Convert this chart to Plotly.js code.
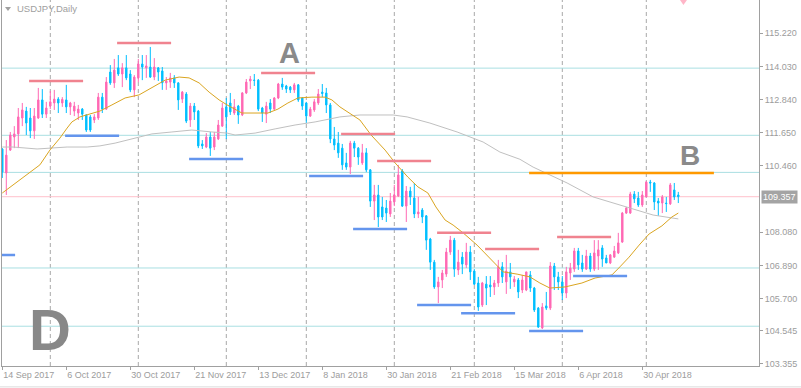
<!DOCTYPE html>
<html><head><meta charset="utf-8">
<script src="https://cdn.plot.ly/plotly-3.0.1.min.js"></script>
<style>html,body{margin:0;padding:0;background:#fff;}#chart{width:801px;height:388px;}</style>
</head><body><div id="chart"></div>
<script>
// ---- OHLC data (USDJPY daily) ----
const opens = [111.07,110.21,111.03,111.50,111.61,112.18,112.43,112.18,111.72,112.18,
112.83,112.32,112.61,112.72,112.86,112.72,112.83,112.58,112.43,112.36,
112.50,112.29,112.22,112.11,112.18,112.93,112.50,113.83,113.44,113.98,
113.76,113.98,113.76,113.19,113.62,114.12,113.98,114.01,113.65,113.98,
113.87,113.44,113.47,113.62,113.44,112.86,113.04,112.11,112.61,112.43,
111.25,111.14,111.50,111.14,111.43,111.89,112.58,112.72,112.36,112.61,
112.29,113.08,113.51,113.54,113.54,112.54,112.32,112.72,112.50,112.90,
113.40,113.33,113.29,113.19,113.37,112.90,112.72,112.25,112.47,112.72,
113.11,113.08,112.65,111.43,111.28,111.10,110.57,110.42,111.28,111.10,
110.57,110.93,110.32,109.20,109.42,108.99,108.95,108.74,109.17,109.38,
110.28,109.02,109.56,109.31,108.74,108.88,108.67,107.84,107.01,106.12,
106.37,106.58,107.37,107.80,106.73,107.19,106.91,107.37,106.69,106.26,
105.47,106.22,106.19,106.12,106.26,106.84,106.30,106.66,106.30,106.37,
106.01,106.01,106.55,106.08,105.36,104.65,105.44,105.36,106.87,106.48,
106.30,105.90,106.62,106.76,107.41,106.98,106.76,107.23,106.76,107.23,
107.52,107.16,106.98,107.19,107.34,107.73,108.77,108.77,109.45,109.31,
109.06,109.35,109.88,109.85,109.20,109.13,109.13,109.10,109.60,109.42];
const highs = [111.10,111.39,111.68,111.89,112.54,112.72,112.58,112.54,112.54,113.26,
113.22,112.76,113.15,113.19,112.93,112.93,113.37,112.76,112.76,112.65,
112.54,112.32,112.29,112.32,113.08,113.08,113.65,114.08,114.30,114.44,
114.15,114.44,113.90,113.72,114.30,114.44,114.44,114.73,114.33,114.01,
114.01,113.65,113.80,113.72,113.47,113.15,113.11,112.72,112.72,112.47,
111.39,111.64,111.68,111.68,112.11,112.72,112.90,113.08,112.86,112.65,
113.11,113.58,113.69,113.76,113.58,112.58,112.76,112.86,112.93,113.44,
113.62,113.37,113.33,113.44,113.40,112.93,112.76,112.58,112.86,113.22,
113.40,113.26,112.72,111.86,111.68,111.25,110.93,111.36,111.36,111.14,
111.25,111.10,110.35,109.78,109.78,109.35,109.24,109.49,109.78,110.50,
110.35,109.74,109.71,109.85,109.35,108.95,108.70,107.88,107.09,106.48,
106.73,107.52,107.95,107.88,107.45,107.37,107.70,107.59,106.76,106.48,
106.30,106.51,106.51,106.37,107.09,107.01,107.27,106.98,106.51,106.44,
106.55,106.66,106.69,106.12,105.40,105.54,105.94,107.01,106.98,106.66,
106.51,106.84,106.98,107.52,107.52,107.27,107.45,107.34,107.80,107.80,
107.62,107.27,107.30,107.59,108.06,108.81,108.99,109.53,109.56,109.53,
109.56,109.92,109.96,109.88,109.31,109.42,109.35,109.85,109.85,109.53];
const lows = [110.03,109.42,111.00,111.10,111.10,111.89,111.57,111.46,111.43,112.15,
112.18,112.18,112.50,112.47,112.36,112.58,112.36,112.29,112.25,112.11,
112.11,111.68,111.68,112.00,112.11,112.36,112.47,113.37,113.26,113.69,
113.29,113.54,113.11,112.93,113.47,113.54,113.62,113.62,113.54,113.51,
113.19,113.19,113.26,113.26,112.47,112.72,112.00,111.86,112.11,111.10,
111.07,111.10,110.82,111.03,111.39,111.86,111.43,112.29,112.29,111.97,
112.25,113.04,113.22,113.33,112.43,112.04,112.00,112.36,112.47,112.86,
113.19,113.08,113.08,113.08,112.76,112.47,112.00,112.22,112.40,112.65,
112.93,112.36,111.28,111.03,110.75,110.32,110.32,110.17,110.78,110.50,
110.50,110.24,108.99,108.52,108.27,108.52,108.45,108.63,109.02,109.35,
108.99,108.45,109.06,108.59,108.59,108.41,107.45,106.73,106.05,105.54,
106.08,106.48,107.27,106.48,106.55,106.58,106.80,106.37,106.19,105.26,
105.40,105.47,105.76,105.83,106.12,106.26,105.87,106.05,106.12,105.72,
105.90,105.97,105.94,105.22,104.65,104.61,105.29,105.29,106.01,106.01,
105.65,105.72,106.37,106.66,106.73,106.66,106.73,106.66,106.69,106.73,
106.84,106.98,106.94,107.16,107.30,107.70,108.74,108.74,109.13,108.99,
108.99,109.35,109.53,108.88,108.67,108.77,108.81,109.06,109.24,109.13];
const closes = [110.24,110.85,111.57,111.61,112.22,112.47,112.00,111.72,112.25,112.83,
112.32,112.54,112.76,112.86,112.72,112.85,112.58,112.72,112.61,112.50,
112.32,111.75,111.75,112.22,112.93,112.50,113.47,113.44,113.90,113.76,
113.98,113.62,113.19,113.65,114.12,114.01,114.05,113.65,114.01,113.83,
113.44,113.51,113.62,113.44,112.83,113.11,112.07,112.61,112.40,111.18,
111.18,111.50,111.10,111.50,111.93,112.54,112.22,112.40,112.58,112.29,
113.08,113.47,113.58,113.53,112.50,112.36,112.61,112.50,112.90,113.40,
113.29,113.22,113.19,113.37,112.83,112.61,112.25,112.50,112.76,113.04,
113.06,112.65,111.43,111.21,110.93,110.50,110.42,111.28,111.10,110.78,
110.93,110.32,109.20,109.42,108.63,108.63,108.77,109.20,109.42,110.14,
109.02,109.56,109.35,108.74,108.81,108.63,107.80,107.01,106.12,106.30,
106.62,107.37,107.80,106.76,107.01,106.94,107.37,106.66,106.22,105.40,
106.26,106.08,106.12,106.26,106.84,106.48,106.69,106.48,106.40,105.94,
106.37,106.66,106.08,105.29,104.68,105.40,105.36,106.87,106.48,106.30,
105.90,106.66,106.80,107.41,106.91,106.76,107.23,106.76,107.34,107.45,
107.12,106.98,107.27,107.41,107.70,108.77,108.95,109.45,109.28,109.06,
109.42,109.88,109.85,109.17,109.13,109.35,109.11,109.78,109.35,109.357];

// ---- moving averages (bar index, price) ----
const maFastIdx = [0,4.4,7.7,9.4,11.9,14.4,16.2,17.4,19.4,21.9,24.4,27.4,30.7,34.2,37.4,40.7,44.2,46.7,49.2,51.7,54.2,56.2,59.9,66.4,68.9,71.4,73.9,77.4,80.7,82.4,84.4,89.4,92.2,95.7,98.2,101.4,103.9,106.4,108.4,110.7,112.7,115.2,118.7,121.9,125.2,128.7,131.9,134.4,136.9,140.7,144.9,148.2,152.4,154.4,156.7,159.2,161.7,164.9,167.4,169];
const maFastVal = [109.49,109.96,110.32,110.50,111.03,111.46,111.82,112.04,112.22,112.32,112.43,112.65,112.90,113.01,113.26,113.54,113.65,113.62,113.44,113.11,112.83,112.65,112.36,112.36,112.50,112.72,112.90,112.93,112.93,112.83,112.58,112.11,111.57,111.03,110.57,110.06,109.71,109.49,108.99,108.52,108.34,108.06,107.62,107.16,106.66,106.58,106.48,106.26,106.08,106.12,106.26,106.44,106.55,106.84,107.19,107.62,108.02,108.31,108.63,108.77];
const maSlowIdx = [0,2.7,8.7,11.9,16.2,21.2,24.4,28.2,32.4,37.4,42.4,47.4,52.4,56.2,58.2,63.2,68.2,73.2,78.2,84.4,89.4,97.7,101.2,106.9,113.7,120.2,124.4,129.4,132.7,141.2,147.7,156.2,162.7,169];
const maSlowVal = [111.14,111.14,111.07,111.10,111.14,111.14,111.18,111.28,111.43,111.61,111.68,111.75,111.68,111.64,111.57,111.64,111.79,111.93,112.04,112.22,112.29,112.29,112.22,112.00,111.68,111.32,110.96,110.70,110.42,109.85,109.35,108.99,108.70,108.56];

// ---- axis labels ----
const xTickIdx = [0,16,32,48,64,80,96,112,128,144,160];
const xTickText = ['14 Sep 2017','6 Oct 2017','30 Oct 2017','21 Nov 2017','13 Dec 2017','8 Jan 2018','30 Jan 2018','21 Feb 2018','15 Mar 2018','6 Apr 2018','30 Apr 2018'];
const yTickVals = [115.22,114.03,112.84,111.65,110.46,108.08,106.89,105.70,104.545,103.355];
const yTickText = ['115.220','114.030','112.840','111.650','110.460','108.080','106.890','105.700','104.545','103.355'];
const monthStartIdx = [12,34,56,76,98,118,140,161];
const lastPrice = 109.357;

// ---- drawn levels ----
const cyanLevels = [113.97,111.56,110.23,106.80,104.71];
const resistLevels = [113.51,114.87,113.80,111.61,110.64,108.06,107.48,107.91];
const resistFrom   = [6.7,28.7,64.7,84.7,93.7,108.7,120.7,138.7];
const resistTo     = [20.2,42.2,78.2,98.2,107.2,122.2,134.2,152.2];
const supportLevels = [107.27,111.54,110.71,110.10,108.20,105.47,105.18,104.54,106.51];
const supportFrom   = [-10,15.7,46.7,76.7,87.7,103.7,114.7,131.7,142.7];
const supportTo     = [3.2,29.2,60.2,90.2,101.2,117.2,128.2,145.2,156.2];
const targetLevel = [110.21], targetFrom = [131.7], targetTo = [177.9];

const idx = opens.map((_, i) => i);
const GRAY = '#9c9c9c';
const FONT = 'Liberation Sans, Arial, sans-serif';

const traces = [
  {type:'scatter', mode:'lines', x:maSlowIdx, y:maSlowVal, line:{color:'#c0c0c0', width:1}, hoverinfo:'skip'},
  {type:'scatter', mode:'lines', x:maFastIdx, y:maFastVal, line:{color:'#daa520', width:1}, hoverinfo:'skip'},
  {type:'candlestick', x:idx, open:opens, high:highs, low:lows, close:closes,
   increasing:{line:{color:'#ff69b4', width:1}, fillcolor:'#ff69b4'},
   decreasing:{line:{color:'#00bfff', width:1}, fillcolor:'#00bfff'},
   whiskerwidth:0, hoverinfo:'skip'}
];

const shapes = [];
monthStartIdx.forEach(v => shapes.push({type:'line', layer:'below', xref:'x', yref:'paper', x0:v, x1:v, y0:0, y1:1, line:{color:'#a8a8a8', width:1, dash:'4px,3px'}}));
cyanLevels.forEach(v => shapes.push({type:'line', layer:'below', xref:'paper', yref:'y', x0:0, x1:1, y0:v, y1:v, line:{color:'#a9dfe2', width:1}}));
shapes.push({type:'line', layer:'below', xref:'paper', yref:'y', x0:0, x1:1, y0:lastPrice, y1:lastPrice, line:{color:'#ffc0cb', width:1}});
resistLevels.forEach((v,k) => shapes.push({type:'line', xref:'x', yref:'y', x0:resistFrom[k], x1:resistTo[k], y0:v, y1:v, line:{color:'#f0838f', width:2.5}}));
supportLevels.forEach((v,k) => shapes.push({type:'line', xref:'x', yref:'y', x0:supportFrom[k], x1:supportTo[k], y0:v, y1:v, line:{color:'#6495ed', width:2.5}}));
targetLevel.forEach((v,k) => shapes.push({type:'line', xref:'x', yref:'y', x0:targetFrom[k], x1:targetTo[k], y0:v, y1:v, line:{color:'#ff9900', width:2.5}}));
// bottom window border
shapes.push({type:'line', xref:'paper', yref:'paper', x0:-0.01, x1:1.06, y0:-0.057, y1:-0.057, line:{color:'#dcdcdc', width:1}});
// small shift marker at top
shapes.push({type:'path', xref:'paper', yref:'paper', path:'M 0.8956 1 L 0.9048 1 L 0.9002 0.986 Z', fillcolor:'#ffb6c8', line:{width:0}});
// dropdown triangle before the title
shapes.push({type:'path', xref:'paper', yref:'paper', path:'M 0.0040 0.9810 L 0.0119 0.9810 L 0.0079 0.9700 Z', fillcolor:'#a0a0a0', line:{width:0}});

const annotations = [
  {xref:'paper', yref:'paper', x:0, y:1, xanchor:'left', yanchor:'top', xshift:13, yshift:-1, text:'USDJPY,Daily', showarrow:false, font:{family:FONT, size:9.5, color:'#a0a0a0'}},
  {xref:'x', yref:'y', x:71.7, y:114.51, text:'<b>A</b>', showarrow:false, font:{family:FONT, size:29, color:'#8a8a8a'}},
  {xref:'x', yref:'y', x:171.9, y:110.82, text:'<b>B</b>', showarrow:false, font:{family:FONT, size:28, color:'#8a8a8a'}},
  {xref:'x', yref:'y', x:11.9, y:104.58, text:'<b>D</b>', showarrow:false, font:{family:FONT, size:58, color:'#888888'}},
  {xref:'paper', yref:'y', x:1, y:lastPrice, xanchor:'left', yanchor:'middle', xshift:2, text:lastPrice.toFixed(3), showarrow:false,
   bgcolor:'#a4a4a4', borderpad:1, font:{family:FONT, size:9, color:'#ffffff'}}
];

const layout = {
  width:801, height:388,
  margin:{l:2, r:42, t:0, b:22, pad:0},
  paper_bgcolor:'#ffffff', plot_bgcolor:'#ffffff',
  showlegend:false, hovermode:false, boxgap:0.5,
  xaxis:{range:[-0.075,189.175], fixedrange:true, rangeslider:{visible:false},
    showgrid:false, zeroline:false, showline:true, mirror:true, linecolor:'#a0a0a0', linewidth:1,
    tickmode:'array', tickvals:xTickIdx, ticktext:xTickText, ticks:'outside', ticklen:3, tickcolor:'#a0a0a0',
    ticklabelposition:'outside right', tickfont:{family:FONT, size:9, color:GRAY}},
  yaxis:{range:[103.283,116.415], side:'right', fixedrange:true,
    showgrid:false, zeroline:false, showline:true, mirror:true, linecolor:'#a0a0a0', linewidth:1,
    tickmode:'array', tickvals:yTickVals, ticktext:yTickText, ticks:'outside', ticklen:3, tickcolor:'#a0a0a0',
    tickfont:{family:FONT, size:9, color:GRAY}},
  shapes:shapes, annotations:annotations
};

Plotly.newPlot('chart', traces, layout, {staticPlot:true, displayModeBar:false});
</script></body></html>
